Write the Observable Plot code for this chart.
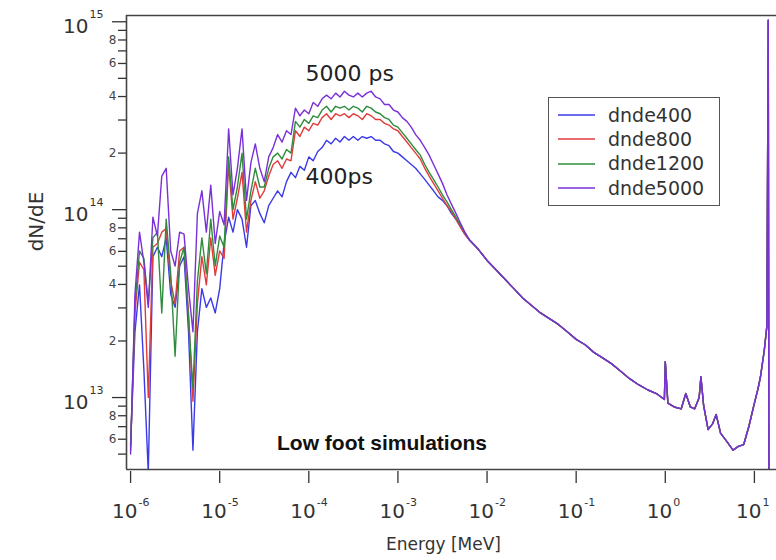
<!DOCTYPE html>
<html>
<head>
<meta charset="utf-8">
<script src="https://cdn.jsdelivr.net/npm/d3@7"></script>
<script src="https://cdn.jsdelivr.net/npm/@observablehq/plot@0.6"></script>
<style>
  html, body { margin: 0; padding: 0; background: #fff; }
  #wrap { position: relative; width: 776px; height: 560px; font-family: "DejaVu Sans", sans-serif; }
  #legend { position: absolute; left: 548px; top: 97px; width: 172px; height: 109px; box-sizing: border-box;
            border: 1.5px solid #555; background: #fff; padding-top: 5px; }
  .row { display: flex; align-items: center; height: 24.3px; }
  .swatch { width: 37px; height: 2px; margin-left: 9px; margin-right: 13px; opacity: 0.75; }
  .lab { font-size: 19px; color: #333; line-height: 1; }
</style>
</head>
<body>
<div id="wrap"></div>
<script>
// ---- data ----
const seriesNames = ["dnde400", "dnde800", "dnde1200", "dnde5000"];
const seriesColors = ["#3a3ae8", "#e23b3b", "#2f8c3c", "#7a30d8"];

// energy grid (MeV) of the part where the four runs differ
const energyLow = [
  1.00e-6,1.12e-6,1.26e-6,1.41e-6,1.58e-6,1.78e-6,2.00e-6,2.24e-6,2.51e-6,2.82e-6,
  3.16e-6,3.55e-6,3.98e-6,4.47e-6,5.01e-6,5.62e-6,6.31e-6,7.08e-6,7.94e-6,8.91e-6,
  1.00e-5,1.12e-5,1.26e-5,1.41e-5,1.58e-5,1.78e-5,2.00e-5,2.24e-5,2.51e-5,2.82e-5,
  3.16e-5,3.55e-5,3.98e-5,4.47e-5,5.01e-5,5.62e-5,6.31e-5,7.08e-5,7.94e-5,8.91e-5,
  1.00e-4,1.12e-4,1.26e-4,1.41e-4,1.58e-4,1.78e-4,2.00e-4,2.24e-4,2.51e-4,2.82e-4,
  3.16e-4,3.55e-4,3.98e-4,4.47e-4,5.01e-4,5.62e-4,6.31e-4,7.08e-4,7.94e-4,8.91e-4,
  1.00e-3,1.12e-3,1.26e-3,1.41e-3,1.58e-3,1.78e-3,2.00e-3,2.24e-3,2.51e-3,2.82e-3,
  3.16e-3,3.55e-3,3.98e-3,4.47e-3,5.01e-3,5.62e-3,6.31e-3
];
const dnde400 = [
  5.62e12,2.24e13,3.98e13,1.41e13,3.98e12,5.62e13,6.31e13,5.62e13,7.08e13,3.55e13,
  3.02e13,5.01e13,5.62e13,2.24e13,5.25e12,2.24e13,3.80e13,3.02e13,3.39e13,2.82e13,
  3.80e13,6.61e13,9.12e13,7.59e13,1.00e14,8.91e13,6.31e13,1.05e14,1.12e14,9.55e13,
  8.51e13,1.05e14,1.15e14,1.26e14,1.17e14,1.41e14,1.58e14,1.48e14,1.70e14,1.62e14,
  1.91e14,1.82e14,2.04e14,2.14e14,2.34e14,2.24e14,2.40e14,2.29e14,2.45e14,2.34e14,
  2.45e14,2.34e14,2.45e14,2.40e14,2.45e14,2.34e14,2.34e14,2.24e14,2.19e14,2.04e14,
  2.00e14,1.91e14,1.82e14,1.74e14,1.66e14,1.55e14,1.45e14,1.35e14,1.26e14,1.17e14,
  1.12e14,1.05e14,9.55e13,8.91e13,8.13e13,7.41e13,6.92e13
];
const dnde800 = [
  5.50e12,2.82e13,5.25e13,4.79e13,1.00e13,6.31e13,6.61e13,7.59e13,7.94e13,4.17e13,
  3.16e13,6.03e13,6.31e13,2.82e13,9.55e12,3.16e13,5.62e13,3.98e13,7.08e13,4.47e13,
  6.03e13,5.50e13,1.74e14,8.91e13,1.15e14,1.58e14,7.59e13,1.12e14,1.41e14,1.15e14,
  1.26e14,1.51e14,1.74e14,1.82e14,1.66e14,1.86e14,1.82e14,2.63e14,2.45e14,2.75e14,
  2.63e14,2.88e14,2.82e14,3.09e14,3.24e14,3.02e14,3.24e14,3.16e14,3.24e14,3.09e14,
  3.24e14,3.16e14,3.02e14,3.24e14,3.16e14,3.02e14,3.02e14,2.88e14,2.82e14,2.69e14,
  2.63e14,2.45e14,2.29e14,2.14e14,2.00e14,1.86e14,1.66e14,1.51e14,1.38e14,1.26e14,
  1.15e14,1.05e14,9.77e13,8.91e13,8.13e13,7.41e13,6.92e13
];
const dnde1200 = [
  5.25e12,3.16e13,6.03e13,5.50e13,3.16e13,7.08e13,7.59e13,2.82e13,8.91e13,4.57e13,
  1.66e13,5.25e13,6.31e13,2.63e13,1.12e13,4.17e13,7.08e13,4.57e13,8.91e13,5.01e13,
  7.24e13,6.31e13,1.91e14,1.00e14,1.32e14,2.00e14,8.91e13,1.26e14,1.66e14,1.32e14,
  1.32e14,1.66e14,1.91e14,2.00e14,1.86e14,2.09e14,2.00e14,2.95e14,2.75e14,3.02e14,
  2.88e14,3.16e14,3.09e14,3.39e14,3.55e14,3.31e14,3.55e14,3.47e14,3.55e14,3.39e14,
  3.55e14,3.47e14,3.31e14,3.55e14,3.47e14,3.31e14,3.24e14,3.09e14,3.02e14,2.82e14,
  2.75e14,2.57e14,2.40e14,2.24e14,2.09e14,1.95e14,1.74e14,1.58e14,1.45e14,1.32e14,
  1.20e14,1.10e14,1.00e14,9.12e13,8.32e13,7.59e13,6.92e13
];
const dnde5000 = [
  5.01e12,3.55e13,7.59e13,5.25e13,3.02e13,9.12e13,7.24e13,1.51e14,1.66e14,6.03e13,
  5.01e13,7.59e13,7.41e13,3.80e13,2.24e13,9.55e13,1.26e14,7.59e13,1.35e14,6.61e13,
  9.77e13,8.32e13,2.69e14,1.20e14,1.66e14,2.69e14,1.12e14,1.78e14,2.24e14,1.66e14,
  1.41e14,1.91e14,2.14e14,2.51e14,2.29e14,2.63e14,2.51e14,3.47e14,3.16e14,3.39e14,
  3.24e14,3.72e14,3.55e14,3.89e14,4.07e14,3.89e14,4.17e14,3.98e14,4.27e14,4.07e14,
  3.98e14,4.17e14,3.98e14,4.17e14,4.27e14,3.98e14,3.89e14,3.63e14,3.63e14,3.39e14,
  3.31e14,3.09e14,2.95e14,2.75e14,2.51e14,2.34e14,2.14e14,1.95e14,1.74e14,1.55e14,
  1.38e14,1.20e14,1.07e14,9.55e13,8.51e13,7.59e13,6.92e13
];

// common high-energy tail, where all four runs overlap
const energyTail = [
  7.94e-3,1.00e-2,1.26e-2,1.58e-2,2.00e-2,2.51e-2,3.16e-2,3.98e-2,5.01e-2,6.31e-2,
  7.94e-2,0.100,0.126,0.158,0.200,0.251,0.316,0.398,0.501,0.631,
  0.794,0.912,0.977,1.00,1.07,1.26,1.51,1.70,1.91,2.14,
  2.40,2.51,2.69,3.02,3.39,3.72,4.17,5.01,5.75,6.61,
  7.59,8.71,9.77,11.0,11.7,12.9,13.8,14.3,14.6
];
const tailValues = [
  6.17e13,5.37e13,4.79e13,4.27e13,3.80e13,3.39e13,3.09e13,2.82e13,2.63e13,2.45e13,
  2.24e13,2.04e13,1.91e13,1.74e13,1.62e13,1.51e13,1.38e13,1.26e13,1.17e13,1.10e13,
  1.05e13,1.00e13,9.77e12,1.55e13,9.33e12,8.91e12,8.71e12,1.05e13,8.91e12,8.71e12,
  1.00e13,1.29e13,9.12e12,6.76e12,7.24e12,8.13e12,6.46e12,5.75e12,5.25e12,5.50e12,
  5.62e12,7.08e12,8.91e12,1.12e13,1.29e13,1.78e13,2.40e13,1.02e15,1.00e12
];

// axes
const xDomain = [9.0e-7, 17.7];
const yDomain = [4.14e12, 1.08e15];
const xTicks = [1e-6, 1e-5, 1e-4, 1e-3, 1e-2, 1e-1, 1e0, 1e1];
const xExponents = ["-6", "-5", "-4", "-3", "-2", "-1", "0", "1"];
const yMajor = [1e13, 1e14, 1e15];
const yMajorExponents = ["13", "14", "15"];
const yMinor = [5e12, 6e12, 7e12, 8e12, 9e12,
                2e13, 3e13, 4e13, 5e13, 6e13, 7e13, 8e13, 9e13,
                2e14, 3e14, 4e14, 5e14, 6e14, 7e14, 8e14, 9e14];
const yMinorLabels = ["", "6", "", "8", "",
                      "2", "", "4", "", "6", "", "8", "",
                      "2", "", "4", "", "6", "", "8", ""];

// annotations
const annotations = [
  {text: "5000 ps", energy: 9.2e-5, value: 5.3e14},
  {text: "400ps", energy: 9.2e-5, value: 1.5e14}
];
const titleNote = [{text: "Low foot simulations", energy: 4.4e-5, value: 5.7e12}];
const yLabel = [{text: "dN/dE", value: 6.0e13}];

// ---- build table ----
const seriesValues = [dnde400, dnde800, dnde1200, dnde5000];
const rows = [];
seriesNames.forEach((name, s) => {
  energyLow.forEach((e, i) => rows.push({series: name, energy: e, value: seriesValues[s][i]}));
  energyTail.forEach((e, i) => rows.push({series: name, energy: e, value: tailValues[i]}));
});
const ink = "#333";

const chart = Plot.plot({
  width: 776,
  height: 560,
  marginLeft: 126,
  marginRight: 0,
  marginTop: 15,
  marginBottom: 91,
  style: {fontFamily: "DejaVu Sans", background: "#fff", color: ink},
  x: {type: "log", domain: xDomain},
  y: {type: "log", domain: yDomain},
  color: {domain: seriesNames, range: seriesColors},
  marks: [
    Plot.line(rows, {x: "energy", y: "value", z: "series", stroke: "series", strokeWidth: 1.4, clip: true}),
    // frame: top, bottom, left
    Plot.ruleY([yDomain[1]], {stroke: "#444", strokeWidth: 1.6}),
    Plot.ruleY([yDomain[0]], {stroke: "#444", strokeWidth: 1.6}),
    Plot.ruleX([xDomain[0]], {stroke: "#444", strokeWidth: 1.6}),
    // x axis
    Plot.axisX({ticks: xTicks, tickSize: 12, tickFormat: () => "", label: null, stroke: ink, strokeWidth: 1.3, dy: 2}),
    Plot.text(xTicks, {x: d => d, frameAnchor: "bottom", dx: 7, dy: 48, text: () => "10",
      textAnchor: "end", fontSize: 20, fill: ink}),
    Plot.text(xTicks, {x: d => d, frameAnchor: "bottom", dx: 8, dy: 36, text: (d, i) => xExponents[i],
      textAnchor: "start", fontSize: 11, fill: ink}),
    Plot.text(["Energy [MeV]"], {frameAnchor: "bottom", dx: -8, dy: 80, fontSize: 17, fill: ink}),
    // y axis
    Plot.axisY({ticks: yMajor, tickSize: 14, tickFormat: () => "", label: null, stroke: ink, strokeWidth: 1.3}),
    Plot.axisY({ticks: yMinor, tickSize: 8, tickFormat: () => "", label: null, stroke: ink, strokeWidth: 1.3}),
    Plot.text(yMinor, {y: d => d, frameAnchor: "left", dx: -10, text: (d, i) => yMinorLabels[i],
      textAnchor: "end", fontSize: 12, fill: "#444"}),
    Plot.text(yMajor, {y: d => d, frameAnchor: "left", dx: -38, dy: 5, text: () => "10",
      textAnchor: "end", fontSize: 20, fill: ink}),
    Plot.text(yMajor, {y: d => d, frameAnchor: "left", dx: -37, dy: -7, text: (d, i) => yMajorExponents[i],
      textAnchor: "start", fontSize: 11, fill: ink}),
    Plot.text(yLabel, {y: "value", text: "text", frameAnchor: "left", dx: -90, rotate: -90, fontSize: 20, fill: ink}),
    // annotations
    Plot.text(annotations, {x: "energy", y: "value", text: "text", textAnchor: "start", fontSize: 22, fill: "#222"}),
    Plot.text(titleNote, {x: "energy", y: "value", text: "text", textAnchor: "start", fontSize: 21,
      fontWeight: "bold", fontFamily: "Liberation Sans", fill: "#111"})
  ]
});

const wrap = document.getElementById("wrap");
wrap.appendChild(chart);

// legend
const legend = document.createElement("div");
legend.id = "legend";
seriesNames.forEach((name, i) => {
  const row = document.createElement("div");
  row.className = "row";
  const sw = document.createElement("div");
  sw.className = "swatch";
  sw.style.background = seriesColors[i];
  const lab = document.createElement("span");
  lab.className = "lab";
  lab.textContent = name;
  row.appendChild(sw);
  row.appendChild(lab);
  legend.appendChild(row);
});
wrap.appendChild(legend);
</script>
</body>
</html>
